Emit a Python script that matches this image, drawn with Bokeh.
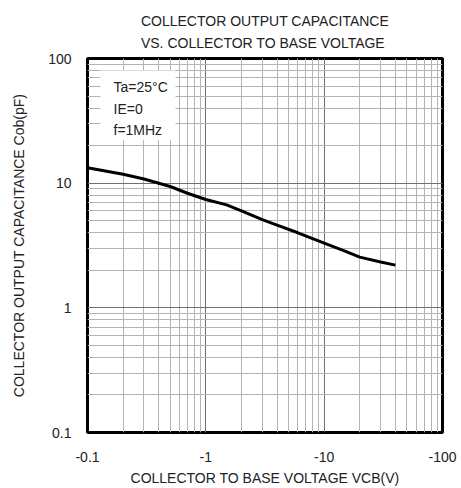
from bokeh.plotting import figure
from bokeh.models import Label, BoxAnnotation, FixedTicker, Title
from bokeh.embed import file_html
from bokeh.resources import INLINE

# Data (VCB in volts, negative; Cob in pF)
vcb = [-0.1, -0.2, -0.3, -0.5, -0.7, -1.0, -1.5, -2.0, -3.0, -4.0, -6.0, -10.0, -15.0, -20.0, -30.0, -40.0]
cob = [13.3, 11.8, 10.8, 9.4, 8.3, 7.4, 6.7, 6.0, 5.1, 4.6, 4.0, 3.3, 2.85, 2.55, 2.33, 2.2]

x_major = [0.1, 1, 10, 100]
x_labels = ["-0.1", "-1", "-10", "-100"]
y_major = [0.1, 1, 10, 100]
y_labels = ["0.1", "1", "10", "100"]
mantissas = [2, 3, 4, 5, 6, 7, 8, 9]
decades = [0.1, 1, 10]

conditions = ["Ta=25°C", "IE=0", "f=1MHz"]
title_lines = ["COLLECTOR OUTPUT CAPACITANCE", "VS. COLLECTOR TO BASE VOLTAGE"]
x_title = "COLLECTOR TO BASE VOLTAGE VCB(V)"
y_title = "COLLECTOR OUTPUT CAPACITANCE Cob(pF)"

FONT = "Liberation Sans"
TXT = "#222222"

minor = [m * d for d in decades for m in mantissas]

# frame geometry (pixels)
W, H = 461, 488
FL, FB, FW, FH = 87, 55, 355, 375
XDEC = FW / 3.0
YDEC = FH / 3.0


def xd(px):  # pixels from frame left -> data x
    return 10 ** (-1 + px / XDEC)


def yd(px):  # pixels from frame bottom -> data y
    return 10 ** (-1 + px / YDEC)


p = figure(width=W, height=H, x_axis_type="log", y_axis_type="log",
           x_range=(0.1, 100), y_range=(0.1, 100),
           output_backend="svg", toolbar_location=None,
           min_border_left=FL, min_border_right=W - FL - FW,
           min_border_top=H - FB - FH, min_border_bottom=FB)

xt = FixedTicker(ticks=x_major, minor_ticks=minor)
yt = FixedTicker(ticks=y_major, minor_ticks=minor)
p.xaxis.ticker = xt
p.yaxis.ticker = yt
p.xgrid.ticker = xt
p.ygrid.ticker = yt
p.xaxis.major_label_overrides = {v: s for v, s in zip(x_major, x_labels)}
p.yaxis.major_label_overrides = {v: s for v, s in zip(y_major, y_labels)}

for ax in (p.xaxis, p.yaxis):
    ax.axis_line_color = None
    ax.major_tick_line_color = None
    ax.minor_tick_line_color = None
    ax.major_tick_out = 0
    ax.major_tick_in = 0
    ax.major_label_text_font = FONT
    ax.major_label_text_font_size = "14px"
    ax.major_label_text_color = TXT
    ax.axis_label_text_font = FONT
    ax.axis_label_text_font_size = "14px"
    ax.axis_label_text_font_style = "normal"
    ax.axis_label_text_color = TXT

p.xaxis.axis_label = x_title
p.yaxis.axis_label = y_title
p.xaxis.major_label_standoff = 15
p.xaxis.axis_label_standoff = 5
p.yaxis.major_label_standoff = 12
p.yaxis.axis_label_standoff = 18

for g in (p.xgrid, p.ygrid):
    g.grid_line_color = "#707070"
    g.grid_line_width = 1
    g.grid_line_alpha = 1
    g.minor_grid_line_color = "#b4b4b4"
    g.minor_grid_line_width = 1

p.outline_line_color = "black"
p.outline_line_width = 3
p.background_fill_color = "white"
p.border_fill_color = "white"

p.line([-v for v in vcb], cob, line_color="black", line_width=3)

# conditions box
p.add_layout(BoxAnnotation(left=xd(13), right=xd(88), bottom=yd(FH - 82), top=yd(FH - 12),
                           fill_color="white", fill_alpha=1, line_color=None, level="annotation"))
for i, t in enumerate(conditions):
    p.add_layout(Label(x=xd(26), y=yd(FH - 29 - 21.5 * i), text=t, text_font=FONT,
                       text_font_size="14px", text_baseline="middle", text_color=TXT))

# two-line title
p.add_layout(Title(text="\n".join(title_lines), align="center", offset=10, standoff=15,
                   text_font=FONT, text_font_size="14px", text_font_style="normal",
                   text_line_height=1.4, text_color=TXT), "above")

open("out.html", "w").write(file_html(p, INLINE))
